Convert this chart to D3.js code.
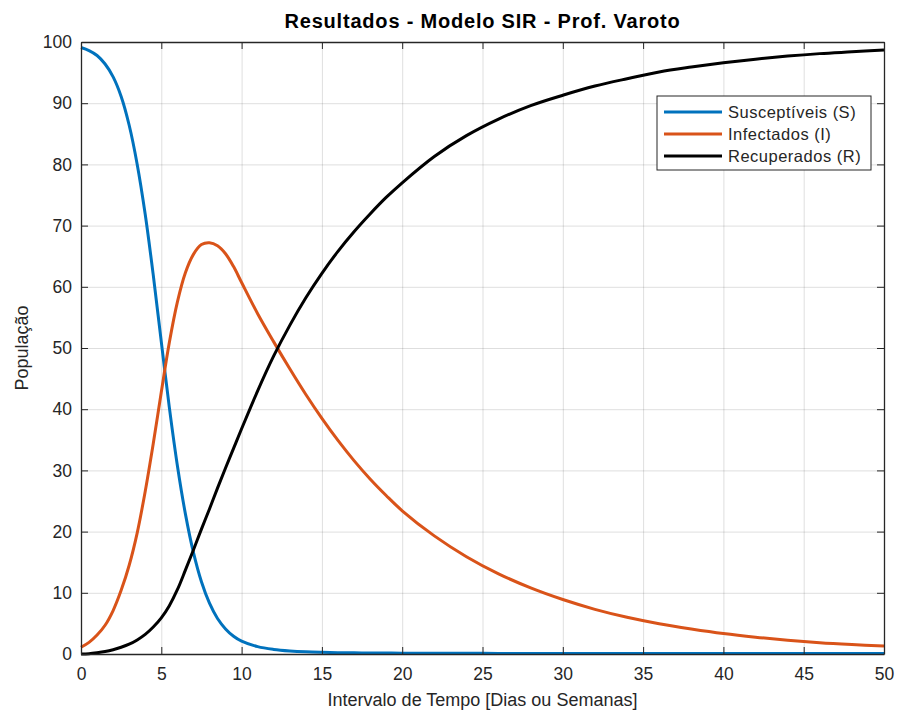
<!DOCTYPE html>
<html>
<head>
<meta charset="utf-8">
<script src="https://cdn.jsdelivr.net/npm/d3@7"></script>
<style>
  body { margin: 0; background: #fff; }
  svg text { font-family: "Liberation Sans", Helvetica, Arial, sans-serif; fill: #262626; }
  .grid line { stroke: #000; stroke-opacity: 0.13; }
  .grid path { display: none; }
  .ax path, .ax line { stroke: #262626; }
</style>
</head>
<body>
<div id="chart"></div>
<script>
// time points (dias/semanas)
var tempo = [0, 0.5, 1, 1.5, 2, 2.5, 3, 3.5, 4, 4.5, 5, 5.5, 6, 6.5, 7, 7.5, 8, 8.5, 9, 9.5, 10,
  11, 12, 13, 14, 15, 16, 17, 18, 19, 20, 22, 24, 26, 28, 30, 32, 34, 36, 38, 40, 42, 44, 46, 48, 50];

var suscetiveis = [99.1, 98.6, 97.8, 96.4, 94.3, 91.1, 86.4, 80.0, 71.8, 61.9, 51.0, 40.3, 30.8, 22.9, 16.6, 11.8, 8.3, 5.8, 4.1, 2.9, 2.1,
  1.2, 0.75, 0.5, 0.35, 0.27, 0.22, 0.19, 0.17, 0.15, 0.14, 0.12, 0.11, 0.1, 0.1, 0.1, 0.1, 0.1, 0.1, 0.1, 0.1, 0.1, 0.1, 0.1, 0.1, 0.1];

var infectados = [1.1, 1.9, 3.1, 4.7, 7.1, 10.4, 14.5, 19.8, 26.6, 34.4, 42.8, 50.9, 57.5, 62.3, 65.3, 66.9, 67.2, 66.7, 65.4, 63.3, 60.7,
  55.6, 51.0, 46.6, 42.4, 38.5, 34.9, 31.6, 28.6, 25.9, 23.4, 19.3, 15.9, 13.1, 10.8, 8.9, 7.3, 6.0, 4.95, 4.1, 3.35, 2.75, 2.25, 1.85, 1.55, 1.3];

var recuperados = [0, 0.05, 0.2, 0.4, 0.7, 1.1, 1.6, 2.3, 3.2, 4.4, 5.9, 7.9, 10.5, 13.7, 17.0, 20.4, 23.7, 27.1, 30.4, 33.6, 36.8,
  43.0, 48.7, 53.7, 58.2, 62.2, 65.8, 69.0, 71.9, 74.6, 77.0, 81.3, 84.7, 87.4, 89.6, 91.3, 92.8, 94.0, 95.1, 95.9, 96.6, 97.2, 97.7, 98.1, 98.4, 98.7];

var nomesSeries = ["Susceptíveis (S)", "Infectados (I)", "Recuperados (R)"];
var coresSeries = ["#0072BD", "#D95319", "#000000"];

var xTicks = [0, 5, 10, 15, 20, 25, 30, 35, 40, 45, 50];
var yTicks = [0, 10, 20, 30, 40, 50, 60, 70, 80, 90, 100];

var svgWidth = 898;
var svgHeight = 715;
var margin = { top: 42, right: 14, bottom: 61, left: 81 };
var width = svgWidth - margin.left - margin.right;
var height = svgHeight - margin.top - margin.bottom;

var svg = d3.select("#chart").append("svg")
  .attr("width", svgWidth)
  .attr("height", svgHeight);

var chartGroup = svg.append("g")
  .attr("transform", `translate(${margin.left}, ${margin.top})`);

var xScale = d3.scaleLinear().domain([0, 50]).range([0, width]);
var yScale = d3.scaleLinear().domain([0, 100]).range([height, 0]);

// grid
chartGroup.append("g").attr("class", "grid")
  .attr("transform", `translate(0, ${height})`)
  .call(d3.axisBottom(xScale).tickValues(xTicks).tickSize(-height).tickFormat(""));
chartGroup.append("g").attr("class", "grid")
  .call(d3.axisLeft(yScale).tickValues(yTicks).tickSize(-width).tickFormat(""));

// series lines
var series = [suscetiveis, infectados, recuperados];
var line = d3.line()
  .x(d => xScale(d[0]))
  .y(d => yScale(d[1]))
  .curve(d3.curveCatmullRom.alpha(0.5));

series.forEach(function(vals, i) {
  chartGroup.append("path")
    .datum(tempo.map((t, k) => [t, vals[k]]))
    .attr("fill", "none")
    .attr("stroke", coresSeries[i])
    .attr("stroke-width", 3)
    .attr("d", line);
});

// axes, ticks inward on all sides
var bottomAx = chartGroup.append("g").attr("class", "ax")
  .attr("transform", `translate(0, ${height})`)
  .call(d3.axisBottom(xScale).tickValues(xTicks).tickSizeInner(-7).tickSizeOuter(0).tickPadding(14));
bottomAx.selectAll("text").attr("font-size", 17.5);

var leftAx = chartGroup.append("g").attr("class", "ax")
  .call(d3.axisLeft(yScale).tickValues(yTicks).tickSizeInner(-7).tickSizeOuter(0).tickPadding(9));
leftAx.selectAll("text").attr("font-size", 17.5);

chartGroup.append("g").attr("class", "ax")
  .call(d3.axisTop(xScale).tickValues(xTicks).tickSizeInner(-7).tickSizeOuter(0).tickFormat(""));
chartGroup.append("g").attr("class", "ax")
  .attr("transform", `translate(${width}, 0)`)
  .call(d3.axisRight(yScale).tickValues(yTicks).tickSizeInner(-7).tickSizeOuter(0).tickFormat(""));

chartGroup.selectAll(".ax path").attr("stroke-width", 1.3);

// title and axis labels
svg.append("text")
  .attr("x", margin.left + width / 2)
  .attr("y", 28)
  .attr("text-anchor", "middle")
  .attr("font-size", 20)
  .attr("font-weight", "bold")
  .attr("letter-spacing", 0.8)
  .style("fill", "#000")
  .text("Resultados - Modelo SIR - Prof. Varoto");

svg.append("text")
  .attr("x", margin.left + width / 2)
  .attr("y", 706)
  .attr("text-anchor", "middle")
  .attr("font-size", 18)
  .text("Intervalo de Tempo [Dias ou Semanas]");

svg.append("text")
  .attr("transform", `translate(28, ${margin.top + height / 2}) rotate(-90)`)
  .attr("text-anchor", "middle")
  .attr("font-size", 18)
  .text("População");

// legend
var legend = svg.append("g").attr("transform", "translate(657, 96)");
legend.append("rect")
  .attr("width", 214).attr("height", 74)
  .attr("fill", "#fff").attr("stroke", "#262626").attr("stroke-width", 1);
nomesSeries.forEach(function(nome, i) {
  var yy = 16 + i * 22;
  legend.append("line")
    .attr("x1", 7).attr("x2", 65).attr("y1", yy).attr("y2", yy)
    .attr("stroke", coresSeries[i]).attr("stroke-width", 3);
  legend.append("text")
    .attr("x", 71).attr("y", yy + 5.5)
    .attr("font-size", 16.5)
    .attr("letter-spacing", 0.5)
    .text(nome);
});
</script>
</body>
</html>
